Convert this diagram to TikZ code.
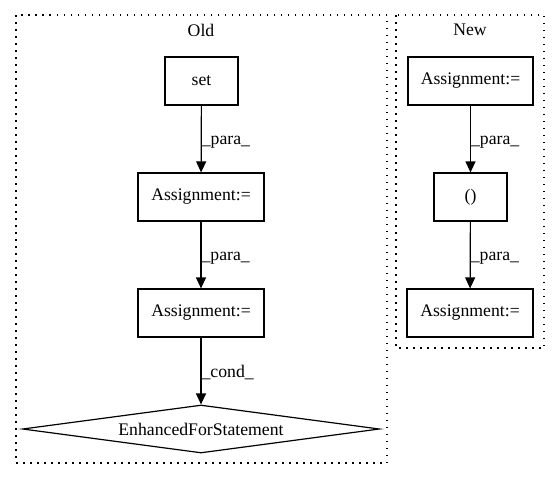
\documentclass[tikz,border=0pt]{standalone}
\usepackage{fontspec}
\setmainfont{Liberation Serif}
\usetikzlibrary{shapes.geometric,arrows.meta}
\begin{document}
\begin{tikzpicture}[x=1pt,y=-1pt,
  every node/.style={font=\fontsize{17.7}{20}\selectfont},
  box/.style={draw,line width=1.2pt,rectangle,minimum height=48pt,inner sep=0pt},
  cond/.style={draw,line width=1.2pt,diamond,aspect=7.44,minimum width=357pt,minimum height=48pt,inner sep=0pt},
  cluster/.style={draw,line width=1.2pt,dash pattern=on 1.5pt off 5.5pt},
  conn/.style={line width=1.2pt,-{Triangle[length=11pt,width=10pt]}},
  lab/.style={anchor=west,inner sep=0pt}]
\useasboundingbox (0,0) rectangle (560,480);
\draw[cluster] (16,15) rectangle (387,463);
\draw[cluster] (396,15) rectangle (544,348);
\node (told) at (201,30) {Old};
\node (tnew) at (470,30) {New};
\node[box,minimum width=73pt] (set) at (201.5,81) {set};
\node[box,minimum width=126pt] (oa1) at (201,197) {Assignment:=};
\node[box,minimum width=126pt] (oa2) at (201,313) {Assignment:=};
\node[cond] (efs) at (201,429) {EnhancedForStatement};
\node[box,minimum width=125pt] (na1) at (470.5,81) {Assignment:=};
\node[box,minimum width=73pt] (np) at (470.5,197) {()};
\node[box,minimum width=126pt] (na2) at (470,313) {Assignment:=};
\draw[conn] (set) -- node[lab,yshift=-3pt] {\_para\_} (oa1);
\draw[conn] (oa1) -- node[lab,yshift=-3pt] {\_para\_} (oa2);
\draw[conn] (oa2) -- node[lab,yshift=-1pt] {\_cond\_} (efs);
\draw[conn] (na1) -- node[lab,yshift=-3pt] {\_para\_} (np);
\draw[conn] (np) -- node[lab,yshift=-3pt] {\_para\_} (na2);
\end{tikzpicture}
\end{document}
